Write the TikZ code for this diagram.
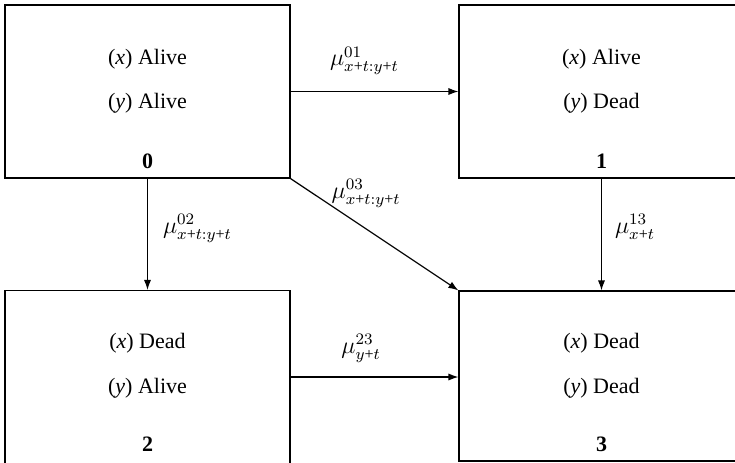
\documentclass[tikz,border=0pt]{standalone}
\usepackage{amsmath}
\usepackage{fontspec}
\setmainfont{Liberation Serif}
\usetikzlibrary{arrows.meta, positioning}
\newcommand{\tpl}{\text{+}}

\begin{document}
\begin{tikzpicture}[
  x=0.5pt, y=-0.5pt,
  state/.style={draw, line width=0.6pt, minimum width=142.5pt, minimum height=86.5pt, inner sep=0pt},
  stxt/.style={font=\fontsize{11}{13}\selectfont, inner sep=0pt},
  snum/.style={font=\fontsize{11}{13}\selectfont\bfseries, inner sep=0pt},
  trans/.style={-{Latex[length=5pt, width=3.6pt]}, line width=0.6pt},
  rate/.style={font=\fontsize{12}{14}\selectfont, inner sep=1pt}
]
  \useasboundingbox (0,0) rectangle (735,462);

  % States
  \node[state] (st0) at (147.5, 91.5) {};
  \node[state] (st1) at (601.5, 91.5) {};
  \node[state] (st2) at (147.5, 377) {};
  \node[state, minimum height=85pt] (st3) at (601.5, 376) {};

  % State descriptions
  \node[stxt] (x0) at (147.5, 59) {(\textit{x}) Alive};
  \node[stxt] (y0) at (147.5, 103) {(\textit{y}) Alive};
  \node[snum] (n0) at (147.5, 161) {0};

  \node[stxt] (x1) at (601.5, 59) {(\textit{x}) Alive};
  \node[stxt] (y1) at (601.5, 103) {(\textit{y}) Dead};
  \node[snum] (n1) at (601.5, 161) {1};

  \node[stxt] (x2) at (147.5, 343) {(\textit{x}) Dead};
  \node[stxt] (y2) at (147.5, 388) {(\textit{y}) Alive};
  \node[snum] (n2) at (147.5, 444) {2};

  \node[stxt] (x3) at (601.5, 343) {(\textit{x}) Dead};
  \node[stxt] (y3) at (601.5, 388) {(\textit{y}) Dead};
  \node[snum] (n3) at (601.5, 444) {3};

  % Transitions
  \draw[trans] (st0) -- node[rate, pos=0.44, above=7pt] (m01) {$\mu^{01}_{x\tpl t:y\tpl t}$} (st1);
  \draw[trans] (st0) -- node[rate, pos=0.45, right=6.5pt] (m02) {$\mu^{02}_{x\tpl t:y\tpl t}$} (st2);
  \draw[trans] (st0.south east) -- node[rate, pos=0.45, above=9.5pt] (m03) {$\mu^{03}_{x\tpl t:y\tpl t}$} (st3.north west);
  \draw[trans] (st1) -- node[rate, pos=0.43, right=5.5pt] (m13) {$\mu^{13}_{x\tpl t}$} (st3);
  \draw[trans] (st2.east) -- node[rate, pos=0.42, above=6pt] (m23) {$\mu^{23}_{y\tpl t}$} (st2.east -| st3.west);
\end{tikzpicture}
\end{document}
